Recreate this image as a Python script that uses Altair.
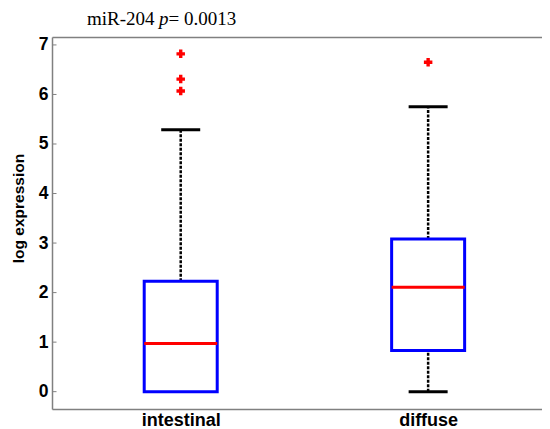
import altair as alt
import pandas as pd

# ---- data ----
categories = ["intestinal", "diffuse"]
positions = [1, 2]
q1 = [0.0, 0.83]
median = [0.97, 2.11]
q3 = [2.23, 3.08]
whisker_low = [0.0, 0.0]
whisker_high = [5.29, 5.75]
outlier_pos = [1, 1, 1, 2]
outlier_values = [6.82, 6.31, 6.07, 6.65]
y_ticks = [0, 1, 2, 3, 4, 5, 6, 7]

boxes = pd.DataFrame({
    "cat": categories, "pos": positions, "q1": q1, "median": median,
    "q3": q3, "lo": whisker_low, "hi": whisker_high,
})
outliers = pd.DataFrame({"pos": outlier_pos, "v": outlier_values})
ticks = pd.DataFrame({"v": y_ticks})

AXIS_GRAY = "#808080"
SANS = "Liberation Sans"
SERIF = "Liberation Serif"

xscale = alt.Scale(domain=[0.5, 2.44], nice=False, zero=False)
yscale = alt.Scale(domain=[-0.35, 7.16], nice=False, zero=False)
yaxis = alt.Axis(
    values=y_ticks, ticks=False, grid=False, domainColor=AXIS_GRAY, domainWidth=1.5,
    labelFont=SANS, labelFontWeight="bold", labelFontSize=17.5, labelColor="black",
    labelPadding=4, title="log expression", titleFont=SANS, titleFontWeight="bold",
    titleFontSize=15.5, titleColor="black", titlePadding=12, titleY=171,
)
label_expr = "[" + ",".join("'%s'" % c for c in categories) + "][datum.value - 1]"
xaxis_bottom = alt.Axis(
    values=positions, labelExpr=label_expr, ticks=False, grid=False,
    domainColor=AXIS_GRAY, domainWidth=1.5, labelFont=SANS, labelFontWeight="bold",
    labelFontSize=18, labelColor="black", labelPadding=2, title=None,
)
xaxis_top = alt.Axis(
    orient="top", labels=False, ticks=False, grid=False, domainColor=AXIS_GRAY,
    domainWidth=1.5, title=None,
)


def X(axis=None):
    return alt.X("pos:Q", scale=xscale, axis=axis)


def Y(field):
    return alt.Y(field, type="quantitative", scale=yscale, axis=yaxis)


base = alt.Chart(boxes)
lower = base.transform_filter("datum.lo < datum.q1")

whisk_up = base.mark_rule(color="black", strokeWidth=2.5, strokeDash=[3, 1.5]).encode(
    x=X(), y=Y("q3"), y2="hi")
whisk_lo = lower.mark_rule(color="black", strokeWidth=2.5, strokeDash=[3, 1.5]).encode(
    x=X(), y=Y("lo"), y2="q1")
cap_up = base.mark_tick(orient="horizontal", size=39, thickness=3, color="black",
                        opacity=1).encode(x=X(xaxis_top), y=Y("hi"))
cap_lo = lower.mark_tick(orient="horizontal", size=39, thickness=3, color="black",
                         opacity=1).encode(x=X(), y=Y("lo"))
box = base.mark_bar(size=73, fill="white", fillOpacity=0, stroke="#0000ff",
                    strokeWidth=3, opacity=1).encode(x=X(xaxis_bottom), y=Y("q1"), y2="q3")
med = base.mark_tick(orient="horizontal", size=73, thickness=3, color="#ff0000",
                     opacity=1).encode(x=X(), y=Y("median"))
outl = alt.Chart(outliers).mark_point(shape="cross", filled=True, size=72,
                                      color="#ff0000", opacity=1).encode(
    x=X(), y=Y("v"))
yt = alt.Chart(ticks).mark_rule(color=AXIS_GRAY, strokeWidth=1).encode(
    y=Y("v"), x=alt.value(0), x2=alt.value(4.5))

tdata = alt.Data(values=[{}])
t1 = alt.Chart(tdata).mark_text(font=SERIF, fontSize=19, align="left", baseline="alphabetic",
                                color="black").encode(
    text=alt.value("miR-204"), x=alt.value(35), y=alt.value(-12.5))
t2 = alt.Chart(tdata).mark_text(font=SERIF, fontSize=19, fontStyle="italic", align="left",
                                baseline="alphabetic", color="black").encode(
    text=alt.value("p"), x=alt.value(107), y=alt.value(-12.5))
t3 = alt.Chart(tdata).mark_text(font=SERIF, fontSize=19, align="left", baseline="alphabetic",
                                color="black").encode(
    text=alt.value("= 0.0013"), x=alt.value(116.5), y=alt.value(-12.5))

chart = alt.layer(
    whisk_up, whisk_lo, cap_up, cap_lo, box, med, outl, yt, t1, t2, t3
).resolve_axis(x="independent").properties(
    width=490, height=372,
    autosize=alt.AutoSizeParams(type="none"),
    padding={"left": 44, "top": 29, "right": 0, "bottom": 20},
    background="white",
).configure_view(stroke=None)

chart.save("out.html", embed_options={"renderer": "svg", "actions": False})
